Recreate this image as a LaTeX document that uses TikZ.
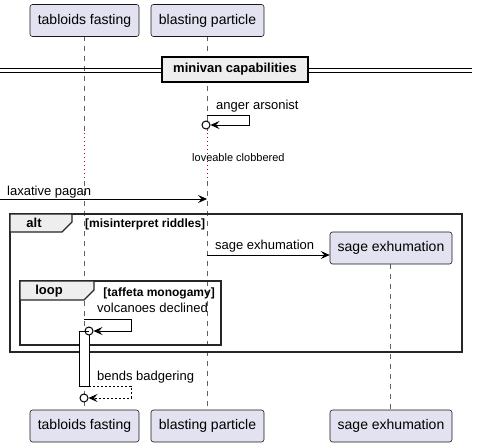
\documentclass[tikz,border=0pt]{standalone}
\usepackage{fontspec}
\setmainfont{Liberation Sans}
\usetikzlibrary{arrows.meta}
\definecolor{partfill}{HTML}{E2E2F0}
\definecolor{partline}{HTML}{181818}
\definecolor{delaycol}{HTML}{A80036}
\definecolor{tabfill}{HTML}{EEEEEE}
\begin{document}
\begin{tikzpicture}[x=1pt,y=-1pt,
  part/.style={draw=partline, fill=partfill, rounded corners=2.5pt, line width=0.6pt,
    minimum height=32pt, inner sep=0pt, font=\fontsize{14}{16}\selectfont},
  msg/.style={font=\fontsize{13}{15}\selectfont, inner sep=0pt, anchor=base west},
  life/.style={draw=gray!75!black, dash pattern=on 5pt off 5pt, line width=0.5pt},
  delayline/.style={draw=delaycol, dash pattern=on 1pt off 3pt, line width=0.7pt},
  arr/.style={-{Stealth[length=9pt,width=8pt,inset=3.5pt]}, line width=0.8pt},
  retarr/.style={-{Stealth[length=9pt,width=8pt,inset=3.5pt]}, line width=0.7pt, dash pattern=on 2pt off 2pt},
  endcirc/.style={draw=black, fill=white, line width=1pt},
  frameline/.style={draw=black!85, line width=1.6pt},
  tabshape/.style={draw=black!85, fill=tabfill, line width=1.2pt},
  framelabel/.style={font=\bfseries\fontsize{13}{15}\selectfont, inner sep=0pt},
  guard/.style={font=\bfseries\fontsize{12}{14}\selectfont, inner sep=0pt, anchor=base west},
]
\useasboundingbox (0,0) rectangle (477,447);

% lifelines
\coordinate (tA) at (84,36);
\coordinate (tD1) at (84,133);
\coordinate (tD2) at (84,181);
\coordinate (tB) at (84,410);
\coordinate (bA) at (207,36);
\coordinate (bD1) at (207,133);
\coordinate (bD2) at (207,181);
\coordinate (bB) at (207,410);
\coordinate (sA) at (390,264);
\coordinate (sB) at (390,410);
\draw[life] (tA) -- (tD1);
\draw[delayline] (tD1) -- (tD2);
\draw[life] (tD2) -- (tB);
\draw[life] (bA) -- (bD1);
\draw[delayline] (bD1) -- (bD2);
\draw[life] (bD2) -- (bB);
\draw[life] (sA) -- (sB);

% participants
\node[part, minimum width=109pt] (tabTop) at (84.5,20.5) {tabloids fasting};
\node[part, minimum width=113pt] (blaTop) at (207.5,20.5) {blasting particle};
\node[part, minimum width=109pt] (tabBot) at (84.5,426) {tabloids fasting};
\node[part, minimum width=113pt] (blaBot) at (207.5,426) {blasting particle};
\node[part, minimum width=122pt] (sagBot) at (391,426) {sage exhumation};

% divider
\coordinate (dL) at (0,70);
\coordinate (dR) at (472,70);
\draw[line width=0.8pt] ([yshift=-2pt]dL) -- ([yshift=-2pt]dR);
\draw[line width=0.8pt] ([yshift=2pt]dL) -- ([yshift=2pt]dR);
\node[draw=black, fill=tabfill, line width=1.3pt, minimum width=146pt, minimum height=25pt,
  inner sep=0pt, font=\bfseries\fontsize{13}{15}\selectfont] (divider) at (235,69.5) {minivan capabilities};

% anger arsonist
\coordinate (aa1) at (207,115);
\coordinate (aa2) at (249,115);
\coordinate (aa3) at (249,125);
\coordinate (aa4) at (206,125);
\node[msg] (aaLbl) at (216,109) {anger arsonist};
\draw[arr] (aa1) -- (aa2) -- (aa3) -- ([xshift=4.5pt]aa4);
\draw[endcirc] (aa4) circle (4pt);

% delay
\node[font=\fontsize{11}{13}\selectfont, inner sep=0pt, anchor=base west] (delayLbl) at (192,161) {loveable clobbered};

% laxative pagan
\coordinate (lpS) at (0,199);
\node[msg] (lpLbl) at (7,195) {laxative pagan};
\draw[arr] (lpS) -- (207,199);

% alt frame
\draw[frameline] (10,214) rectangle (462,352);
\draw[tabshape] (10,214) -- (72,214) -- (72,222) -- (62,232) -- (10,232) -- cycle;
\node[framelabel] (altLbl) at (34,223) {alt};
\node[guard] (altGuard) at (85,227) {[misinterpret riddles]};

% sage exhumation creation
\node[part, minimum width=122pt] (sagTop) at (391,248) {sage exhumation};
\node[msg] (seLbl) at (215,249) {sage exhumation};
\draw[arr] (207,255) -- (sagTop.west |- 0,255);

% loop frame
\draw[frameline] (20,281) rectangle (221,345);
\draw[tabshape] (20,281) -- (94,281) -- (94,290) -- (84,300) -- (20,300) -- cycle;
\node[framelabel] (loopLbl) at (49,291) {loop};
\node[guard, anchor=base east] (loopGuard) at (215,296) {[taffeta monogamy]};

% activation
\node[draw=black, fill=white, line width=0.8pt, minimum width=10pt, minimum height=55pt, inner sep=0pt] (act) at (84,358.5) {};

% volcanoes declined
\node[msg] (vdLbl) at (97,312) {volcanoes declined};
\draw[arr] (84,319) -- (131,319) -- (131,331) -- (93.5,331);
\draw[endcirc] (89,331) circle (4pt);
\draw[line width=0.8pt] (79,331) -- (89,331);

% bends badgering
\node[msg] (bbLbl) at (97,380) {bends badgering};
\draw[retarr] (act.east |- 0,386) -- (131,386) -- (131,398) -- (88.5,398);
\draw[endcirc] (84,398) circle (4pt);
\end{tikzpicture}
\end{document}
